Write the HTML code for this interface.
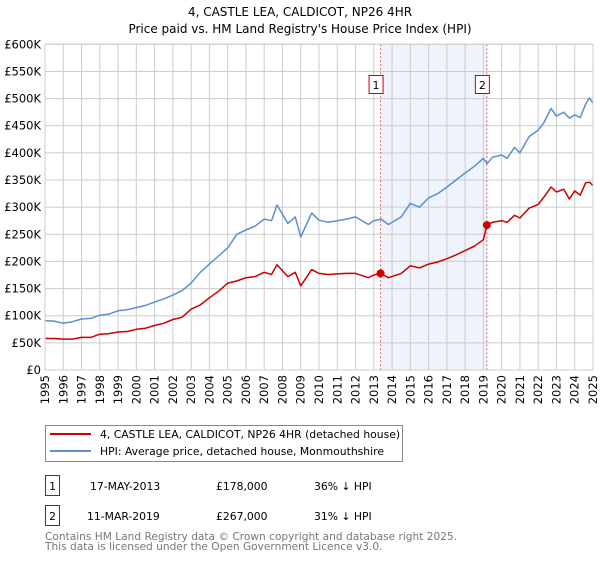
<!DOCTYPE html>
<html><head><meta charset="utf-8"><style>
body{margin:0;background:#fff;font-family:"DejaVu Sans","Liberation Sans",sans-serif;}
svg text{font-family:"DejaVu Sans","Liberation Sans",sans-serif;}
</style></head><body>
<svg id="c" width="600" height="560" xmlns="http://www.w3.org/2000/svg">
<text x="300" y="16" font-size="12" text-anchor="middle">4, CASTLE LEA, CALDICOT, NP26 4HR</text>
<text x="300" y="33" font-size="12" text-anchor="middle">Price paid vs. HM Land Registry's House Price Index (HPI)</text>
<g id="plot"></g>
<g>
<rect x="45.5" y="425.5" width="357" height="36" fill="#fff" stroke="#888"/>
<line x1="50" y1="434" x2="91" y2="434" stroke="#cc0000" stroke-width="2"/>
<text x="100" y="438" font-size="10.8">4, CASTLE LEA, CALDICOT, NP26 4HR (detached house)</text>
<line x1="50" y1="451" x2="91" y2="451" stroke="#5b8fd0" stroke-width="2"/>
<text x="100" y="455" font-size="10.8">HPI: Average price, detached house, Monmouthshire</text>
</g>
<g font-size="10.8">
<rect x="45.5" y="475.5" width="14" height="20" fill="#fff" stroke="#cc0000"/>
<text x="52.5" y="490" text-anchor="middle">1</text>
<text x="90" y="490">17-MAY-2013</text><text x="216" y="490">£178,000</text><text x="314" y="490">36% ↓ HPI</text>
<rect x="45.5" y="505.5" width="14" height="20" fill="#fff" stroke="#cc0000"/>
<text x="52.5" y="520" text-anchor="middle">2</text>
<text x="87" y="520">11-MAR-2019</text><text x="216" y="520">£267,000</text><text x="314" y="520">31% ↓ HPI</text>
</g>
<text x="45" y="540" font-size="10.6" fill="#777">Contains HM Land Registry data © Crown copyright and database right 2025.</text>
<text x="45" y="550" font-size="10.6" fill="#777">This data is licensed under the Open Government Licence v3.0.</text>
</svg>
<script>
const yTicks=[0,50,100,150,200,250,300,350,400,450,500,550,600];
const yTickLabels=["£0","£50K","£100K","£150K","£200K","£250K","£300K","£350K","£400K","£450K","£500K","£550K","£600K"];
const xYears=[1995,1996,1997,1998,1999,2000,2001,2002,2003,2004,2005,2006,2007,2008,2009,2010,2011,2012,2013,2014,2015,2016,2017,2018,2019,2020,2021,2022,2023,2024,2025];
const hpiYears=[1995,1995.5,1996,1996.5,1997,1997.5,1998,1998.5,1999,1999.5,2000,2000.5,2001,2001.5,2002,2002.5,2003,2003.5,2004,2004.5,2005,2005.5,2006,2006.5,2007,2007.4,2007.7,2008.3,2008.7,2009,2009.6,2010,2010.5,2011,2011.5,2012,2012.7,2013,2013.4,2013.8,2014.5,2015,2015.5,2016,2016.5,2017,2017.5,2018,2018.5,2019,2019.2,2019.5,2020,2020.3,2020.7,2021,2021.5,2022,2022.3,2022.7,2023,2023.4,2023.7,2024,2024.3,2024.6,2024.8,2025];
const hpiValues=[91,90,86,89,94,95,101,103,109,111,115,119,125,131,138,146,160,180,195,210,225,250,258,265,278,275,304,270,282,245,289,276,272,275,278,282,268,275,278,268,282,307,300,317,325,337,350,363,375,390,380,392,396,390,410,400,430,442,455,482,468,475,464,470,465,490,501,492];
const saleYears=[1995,1995.5,1996,1996.5,1997,1997.5,1998,1998.5,1999,1999.5,2000,2000.5,2001,2001.5,2002,2002.5,2003,2003.5,2004,2004.5,2005,2005.5,2006,2006.5,2007,2007.4,2007.7,2008.3,2008.7,2009,2009.6,2010,2010.5,2011,2011.5,2012,2012.7,2013,2013.37,2013.8,2014.5,2015,2015.5,2016,2016.5,2017,2017.5,2018,2018.5,2019,2019.19,2019.5,2020,2020.3,2020.7,2021,2021.5,2022,2022.3,2022.7,2023,2023.4,2023.7,2024,2024.3,2024.6,2024.8,2025];
const saleValues=[58,58,57,57,60,60,66,67,70,71,75,77,82,86,93,97,112,120,133,145,160,164,170,172,180,176,194,172,180,155,185,178,176,177,178,178,170,175,178,170,178,192,188,195,199,205,212,220,228,240,267,272,275,272,285,280,298,305,318,337,328,333,315,330,322,345,346,340];
const sales=[{n:"1",year:2013.37,value:178},{n:"2",year:2019.19,value:267}];
const X0=45,X1=593,Y0=370,Y1=44.3;
function xs(y){return X0+(y-1995)/30*(X1-X0);}
function ys(v){return Y0-v/600*(Y0-Y1);}
const NS="http://www.w3.org/2000/svg";
const g=document.getElementById('plot');
function mk(t,a,p){const e=document.createElementNS(NS,t);for(const k in a)e.setAttribute(k,a[k]);(p||g).appendChild(e);return e;}
let sh=mk('rect',{x:xs(sales[0].year),y:Y1,width:xs(sales[1].year)-xs(sales[0].year),height:Y0-Y1,fill:'#eef3fc'});


yTicks.forEach((v,i)=>{
  let l=mk('line',{x1:X0,x2:X1,y1:ys(v),y2:ys(v),stroke:'#ccc','stroke-width':1});
  
  
  let t=mk('text',{x:X0-4,y:ys(v)+4,'font-size':11.5,'text-anchor':'end'});
  t.textContent=yTickLabels[i];
  
  
});
xYears.forEach(yr=>{
  let l=mk('line',{x1:xs(yr),x2:xs(yr),y1:Y1,y2:Y0,stroke:'#ccc','stroke-width':1});
  
  
  let gg=mk('g',{transform:'translate('+(xs(yr)+4)+','+(Y0+5)+') rotate(-90)'});
  gg.style.transform='translate('+(xs(yr)+4)+'px,'+(Y0+5)+'px) rotate(-90deg)';
  let t=mk('text',{x:0,y:0,'font-size':11.5,'text-anchor':'end'},gg);
  t.textContent=yr;
  
  
});
sales.forEach(s=>{
  let l=mk('line',{x1:xs(s.year),x2:xs(s.year),y1:Y1,y2:Y0,stroke:'#e06060','stroke-dasharray':'2,2','stroke-width':1});
  
  
  let b=mk('rect',{x:xs(s.year)-11.5,y:75.5,width:14,height:18,fill:'#fff',stroke:'#cc0000'});
  
  
  let t=mk('text',{x:xs(s.year)-4.5,y:89,'font-size':11,'text-anchor':'middle'});
  t.textContent=s.n;
  
  
});
function path(xa,va,col,name){
  let d=xa.map((x,i)=>(i?'L':'M')+xs(x).toFixed(1)+','+ys(va[i]).toFixed(1)).join('');
  let p=mk('path',{d:d,fill:'none',stroke:col,'stroke-width':1.5,'stroke-linejoin':'round'});
  
  
}
path(hpiYears,hpiValues,'#5b8fd0','hpi-line');
path(saleYears,saleValues,'#cc0000','property-line');
sales.forEach(s=>{
  let c=mk('circle',{cx:xs(s.year),cy:ys(s.value),r:4,fill:'#cc0000'});
  
  
});
let ax=mk('rect',{x:X0,y:Y1,width:X1-X0,height:Y0-Y1,fill:'none',stroke:'#ccc'});


</script>
</body></html>
